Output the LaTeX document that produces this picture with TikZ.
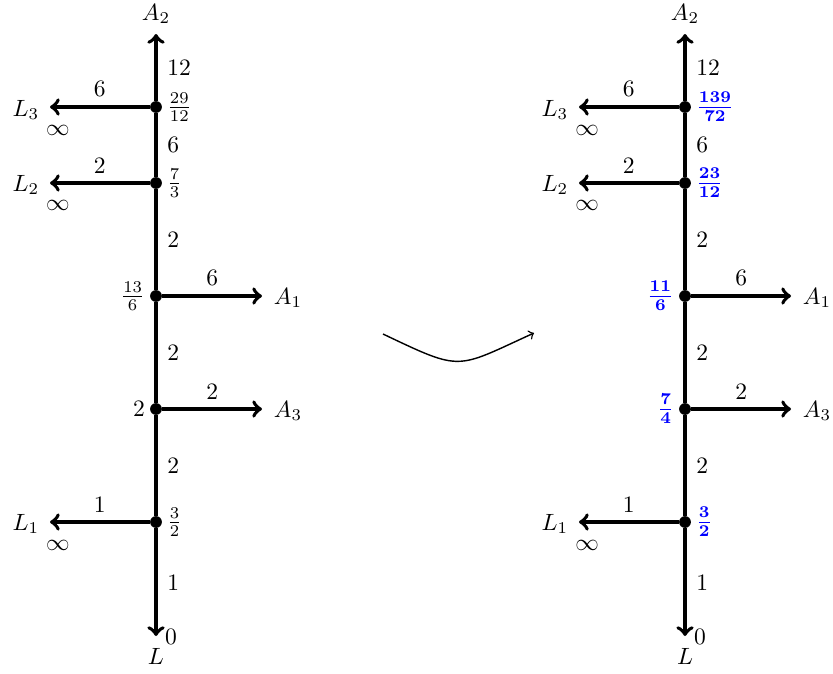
\documentclass[tikz,border=0pt]{standalone}
\usepackage{amsmath}
\usetikzlibrary{positioning}
\begin{document}
\begin{tikzpicture}[
    x=0.425pt,
    y=-0.425pt,
    vertex/.style={
        circle,
        fill,
        inner sep=0pt,
        minimum size=5pt
    },
    leg/.style={->, line width=1.6pt},
    trunk/.style={line width=1.6pt},
    weight/.style={inner sep=2pt},
    value/.style={text=blue, font=\boldmath},
    map/.style={->, semithick}
]
\useasboundingbox (0,0) rectangle (833,673);

\foreach \x/\s in {156/l, 685/r} {
    % vertices on the trunk
    \node[vertex] (L3v-\s) at (\x,107) {};
    \node[vertex] (L2v-\s) at (\x,183) {};
    \node[vertex] (A1v-\s) at (\x,296) {};
    \node[vertex] (A3v-\s) at (\x,409) {};
    \node[vertex] (L1v-\s) at (\x,522) {};

    % free ends of the legs
    \coordinate (A2e-\s) at (\x,34);
    \coordinate (Le-\s) at (\x,636);
    \coordinate (L3e-\s) at (\x-106,107);
    \coordinate (L2e-\s) at (\x-106,183);
    \coordinate (A1e-\s) at (\x+106,296);
    \coordinate (A3e-\s) at (\x+106,409);
    \coordinate (L1e-\s) at (\x-106,522);

    % leg names
    \node (A2-\s) at (\x,14) {$A_2$};
    \node (L-\s) at (\x,656) {$L$};
    \node[weight] (zero-\s) at (\x+15,637) {0};
    \node (L3-\s) at (\x-130,110) {$L_3$};
    \node (L2-\s) at (\x-130,185) {$L_2$};
    \node (L1-\s) at (\x-130,524) {$L_1$};
    \node (A1-\s) at (\x+132,298) {$A_1$};
    \node (A3-\s) at (\x+132,411) {$A_3$};
    \node (L3i-\s) at (\x-98,130) {$\infty$};
    \node (L2i-\s) at (\x-98,205) {$\infty$};
    \node (L1i-\s) at (\x-98,545) {$\infty$};

    \draw[trunk] (L3v-\s) -- node[weight, right=2pt] {6} (L2v-\s)
        -- node[weight, right=2pt] {2} (A1v-\s)
        -- node[weight, right=2pt] {2} (A3v-\s)
        -- node[weight, right=2pt] {2} (L1v-\s);
    \draw[leg] (L3v-\s) -- node[weight, right=2pt] {12} (A2e-\s);
    \draw[leg] (L1v-\s) -- node[weight, right=2pt] {1} (Le-\s);

    \draw[leg] (L3v-\s) -- node[above] {6} (L3e-\s);
    \draw[leg] (L2v-\s) -- node[above] {2} (L2e-\s);
    \draw[leg] (A1v-\s) -- node[above] {6} (A1e-\s);
    \draw[leg] (A3v-\s) -- node[above] {2} (A3e-\s);
    \draw[leg] (L1v-\s) -- node[above] {1} (L1e-\s);
}

% values before
\node[right=-1.5pt of L3v-l] (L3val-l) {$\frac{29}{12}$};
\node[right=-1.5pt of L2v-l] (L2val-l) {$\frac{7}{3}$};
\node[left=-1.5pt of A1v-l] (A1val-l) {$\frac{13}{6}$};
\node[left=-1.5pt of A3v-l] (A3val-l) {$2$};
\node[right=-1.5pt of L1v-l] (L1val-l) {$\frac{3}{2}$};

% values after
\node[value, right=-1.5pt of L3v-r] (L3val-r) {$\frac{139}{72}$};
\node[value, right=-1.5pt of L2v-r] (L2val-r) {$\frac{23}{12}$};
\node[value, left=-1.5pt of A1v-r] (A1val-r) {$\frac{11}{6}$};
\node[value, left=-1.5pt of A3v-r] (A3val-r) {$\frac{7}{4}$};
\node[value, right=-1.5pt of L1v-r] (L1val-r) {$\frac{3}{2}$};

\coordinate (mapfrom) at (383,334);
\coordinate (mapto) at (534,333);
\draw[map] (mapfrom) .. controls (463,372) and (455,369) .. (mapto);

\end{tikzpicture}
\end{document}
